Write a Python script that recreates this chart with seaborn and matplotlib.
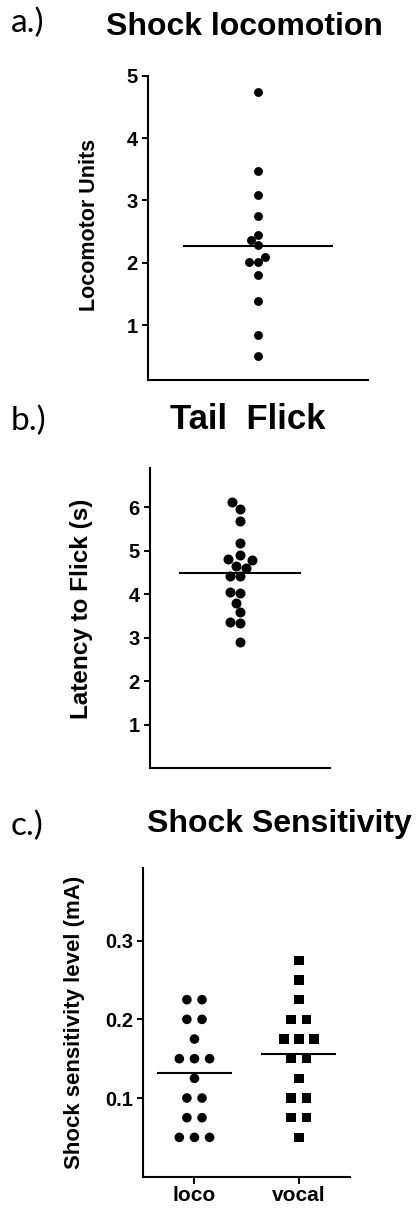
import numpy as np
import pandas as pd
import matplotlib
matplotlib.use("Agg")
import matplotlib.pyplot as plt
import seaborn as sns

# ---- data -----------------------------------------------------------------
shock_locomotion = [4.74, 3.47, 3.08, 2.75, 2.45, 2.37, 2.28, 2.10, 2.01, 2.02,
                    1.81, 1.38, 0.84, 0.51]
tail_flick = [6.11, 5.96, 5.69, 5.18, 4.90, 4.81, 4.78, 4.65, 4.60, 4.41, 4.41,
              4.06, 4.02, 3.80, 3.59, 3.37, 3.33, 2.89]
sensitivity_groups = ["loco", "vocal"]
sensitivity_loco = [0.225, 0.225, 0.200, 0.200, 0.175, 0.150, 0.150, 0.150,
                    0.125, 0.100, 0.100, 0.075, 0.075, 0.050, 0.050, 0.050]
sensitivity_vocal = [0.275, 0.250, 0.225, 0.200, 0.200, 0.175, 0.175, 0.175,
                     0.150, 0.150, 0.125, 0.100, 0.100, 0.075, 0.075, 0.050]

yticks_a = [1, 2, 3, 4, 5]
yticks_b = [1, 2, 3, 4, 5, 6]
yticks_c = [0.1, 0.2, 0.3]

# ---- style ----------------------------------------------------------------
sns.set_theme(style="ticks")
plt.rcParams["font.family"] = ["Liberation Sans", "DejaVu Sans"]
plt.rcParams.update({
    "axes.linewidth": 1.5,
    "xtick.major.width": 1.4,
    "ytick.major.width": 1.4,
    "xtick.major.size": 5,
    "ytick.major.size": 4.5,
    "xtick.color": "black",
    "ytick.color": "black",
    "xtick.labelcolor": "black",
    "ytick.labelcolor": "black",
    "axes.edgecolor": "black",
    "axes.labelcolor": "black",
    "text.color": "black",
})

W, H = 417, 1209
fig = plt.figure(figsize=(W / 100, H / 100), dpi=100)
fig.patch.set_facecolor("white")


def px_axes(left, top, right, bottom):
    """Create axes from pixel edges (origin at top-left of the figure)."""
    return fig.add_axes([left / W, 1 - bottom / H, (right - left) / W, (bottom - top) / H])


def style_axes(ax, yticks, ylabel, label_x, label_y, label_size):
    sns.despine(ax=ax)
    ax.set_yticks(yticks)
    for t in ax.get_yticklabels():
        t.set_fontweight("bold")
        t.set_fontsize(14.5)
    ax.tick_params(axis="y", pad=3)
    ax.set_ylabel(ylabel, fontsize=label_size, fontweight="bold")
    ax.yaxis.set_label_coords(label_x, label_y)
    ax.yaxis.label.set_verticalalignment("center")
    ax.set_facecolor("white")


def tied_offsets(values, step):
    """Spread identical values symmetrically in a horizontal row."""
    values = np.asarray(values)
    offsets = np.zeros(len(values))
    for v in np.unique(values):
        idx = np.where(values == v)[0]
        n = len(idx)
        offsets[idx] = (np.arange(n) - (n - 1) / 2) * step
    return offsets


mean_kw = dict(color="black", linewidth=1.5, zorder=3)

# ---- a.) Shock locomotion ---------------------------------------------------
ax_a = px_axes(148, 75.7, 368, 380)
sns.swarmplot(y=shock_locomotion, ax=ax_a, color="black", size=6.4, linewidth=0)
ax_a.hlines(np.mean(shock_locomotion), -0.34, 0.34, **mean_kw)
ax_a.set_xlim(-0.5, 0.5)
ax_a.set_ylim(0.12, 5.0)
ax_a.set_xticks([])
style_axes(ax_a, yticks_a, "Locomotor Units", -0.265, 0.51, 15.5)

# ---- b.) Tail Flick ---------------------------------------------------------
ax_b = px_axes(150, 468.3, 330, 768.3)
sns.swarmplot(y=tail_flick, ax=ax_b, color="black", size=7.2, linewidth=0)
ax_b.hlines(np.mean(tail_flick), -0.34, 0.34, **mean_kw)
ax_b.set_xlim(-0.5, 0.5)
ax_b.set_ylim(0, 6.89)
ax_b.set_xticks([])
style_axes(ax_b, yticks_b, "Latency to Flick (s)", -0.38, 0.53, 17.5)

# ---- c.) Shock Sensitivity --------------------------------------------------
sens = pd.DataFrame({
    "group": [sensitivity_groups[0]] * len(sensitivity_loco)
             + [sensitivity_groups[1]] * len(sensitivity_vocal),
    "level": sensitivity_loco + sensitivity_vocal,
})
sens["pos"] = sens["group"].map({g: i for i, g in enumerate(sensitivity_groups)})
sens["x"] = sens["pos"].astype(float)
for g in sensitivity_groups:
    m = sens["group"] == g
    sens.loc[m, "x"] += tied_offsets(sens.loc[m, "level"].values, 0.145)

ax_c = px_axes(143.3, 868.3, 350, 1176.7)
sns.scatterplot(data=sens, x="x", y="level", style="group",
                markers={"loco": "o", "vocal": "s"}, color="black",
                s=6.9 ** 2, linewidth=0, legend=False, ax=ax_c)
for i, g in enumerate(sensitivity_groups):
    ax_c.hlines(sens.loc[sens["group"] == g, "level"].mean(), i - 0.36, i + 0.36, **mean_kw)
ax_c.set_xlim(-0.49, 1.49)
ax_c.set_ylim(0, 0.392)
ax_c.set_xticks(range(len(sensitivity_groups)))
ax_c.set_xticklabels(sensitivity_groups, fontsize=15, fontweight="bold")
ax_c.tick_params(axis="x", pad=2)
ax_c.set_xlabel("")
style_axes(ax_c, yticks_c, "Shock sensitivity level (mA)", -0.335, 0.5, 16)

# ---- panel letters and titles ----------------------------------------------
letter_kw = dict(family=["Lato", "DejaVu Sans"], fontsize=24, ha="left", va="center")
title_kw = dict(fontweight="bold", ha="center", va="center")
fig.text(11 / W, 1 - 23 / H, "a.)", **letter_kw)
fig.text(244 / W, 1 - 27 / H, "Shock locomotion", fontsize=23, **title_kw)
fig.text(11 / W, 1 - 421 / H, "b.)", **letter_kw)
fig.text(247.5 / W, 1 - 419 / H, "Tail  Flick", fontsize=25, **title_kw)
fig.text(11 / W, 1 - 826 / H, "c.)", **letter_kw)
fig.text(279 / W, 1 - 824 / H, "Shock Sensitivity", fontsize=23, **title_kw)

fig.savefig("out.png", dpi=100, facecolor="white")
